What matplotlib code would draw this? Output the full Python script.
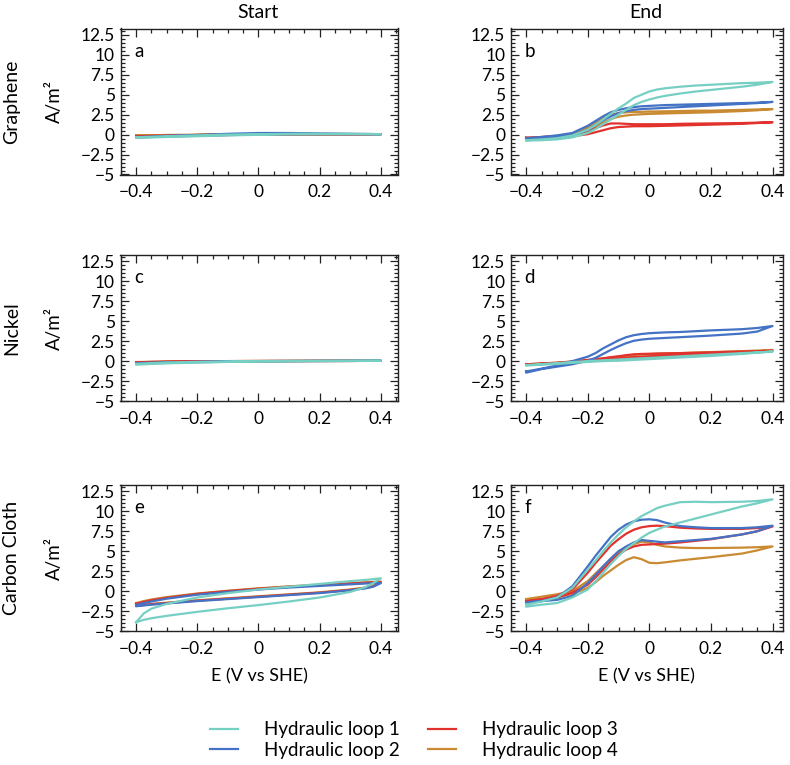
import numpy as np
import matplotlib
matplotlib.use('Agg')
import matplotlib.pyplot as plt
from matplotlib.ticker import MultipleLocator

plt.rcParams['font.family'] = ['Lato', 'DejaVu Sans']

# potential grids (V vs SHE)
E_START = [-0.4, -0.375, -0.35, -0.3, -0.2, -0.1, 0.0, 0.1, 0.2, 0.3, 0.35, 0.375, 0.4]
E_END = [-0.4, -0.35, -0.3, -0.25, -0.2, -0.175, -0.15, -0.125, -0.1, -0.075, -0.05,
         -0.025, 0.0, 0.025, 0.05, 0.1, 0.15, 0.2, 0.3, 0.35, 0.4]

loop_names = ['Hydraulic loop 1', 'Hydraulic loop 2', 'Hydraulic loop 3', 'Hydraulic loop 4']
loop_colors = ['#76CFC3', '#4472C4', '#E2322D', '#C98A32']

# current density (A/m2), upper and lower branch of each loop, order: loop 1..4
# a - graphene start
a_upper = [
    [-0.35, -0.3, -0.28, -0.2, -0.1, 0.0, 0.05, 0.1, 0.12, 0.1, 0.08, 0.07, 0.05],
    [-0.3, -0.28, -0.25, -0.15, -0.05, 0.1, 0.2, 0.2, 0.15, 0.1, 0.08, 0.07, 0.05],
    [-0.2, -0.18, -0.15, -0.1, -0.05, 0.02, 0.08, 0.1, 0.08, 0.06, 0.05, 0.05, 0.05],
    [-0.1, -0.1, -0.08, -0.05, 0.0, 0.05, 0.05, 0.05, 0.05, 0.05, 0.05, 0.05, 0.05],
]
a_lower = [
    [-0.4, -0.38, -0.35, -0.3, -0.2, -0.1, -0.02, 0.03, 0.05, 0.05, 0.05, 0.05, 0.05],
    [-0.35, -0.33, -0.3, -0.25, -0.15, -0.05, 0.0, 0.05, 0.05, 0.05, 0.05, 0.05, 0.05],
    [-0.25, -0.24, -0.22, -0.18, -0.1, -0.05, 0.0, 0.02, 0.03, 0.04, 0.05, 0.05, 0.05],
    [-0.15, -0.14, -0.13, -0.1, -0.05, 0.0, 0.02, 0.03, 0.04, 0.05, 0.05, 0.05, 0.05],
]
# c - nickel start
c_upper = [
    [-0.35, -0.3, -0.25, -0.18, -0.1, -0.05, 0.0, 0.02, 0.04, 0.05, 0.05, 0.05, 0.05],
    [-0.25, -0.22, -0.2, -0.15, -0.08, -0.03, 0.0, 0.02, 0.03, 0.04, 0.05, 0.05, 0.05],
    [-0.15, -0.13, -0.1, -0.06, -0.02, 0.0, 0.02, 0.03, 0.04, 0.05, 0.05, 0.05, 0.05],
    [-0.12, -0.1, -0.08, -0.05, -0.02, 0.0, 0.02, 0.03, 0.04, 0.05, 0.05, 0.05, 0.05],
]
c_lower = [
    [-0.45, -0.4, -0.35, -0.28, -0.18, -0.1, -0.05, -0.02, 0.0, 0.02, 0.03, 0.04, 0.05],
    [-0.35, -0.3, -0.27, -0.22, -0.14, -0.08, -0.04, -0.01, 0.01, 0.02, 0.03, 0.04, 0.05],
    [-0.2, -0.18, -0.16, -0.12, -0.07, -0.04, -0.02, 0.0, 0.01, 0.02, 0.03, 0.04, 0.05],
    [-0.18, -0.16, -0.14, -0.1, -0.06, -0.03, -0.01, 0.0, 0.01, 0.02, 0.03, 0.04, 0.05],
]
# e - carbon cloth start
e_upper = [
    [-3.9, -2.8, -2.2, -1.6, -0.8, -0.25, 0.2, 0.55, 0.9, 1.25, 1.4, 1.5, 1.6],
    [-1.75, -1.5, -1.3, -0.95, -0.45, -0.1, 0.2, 0.45, 0.65, 0.85, 0.95, 1.0, 1.0],
    [-1.6, -1.35, -1.15, -0.85, -0.35, 0.0, 0.3, 0.55, 0.75, 0.95, 1.05, 1.1, 1.1],
    [-1.5, -1.25, -1.05, -0.75, -0.3, 0.05, 0.35, 0.6, 0.8, 1.0, 1.1, 1.15, 1.2],
]
e_lower = [
    [-3.9, -3.6, -3.4, -3.1, -2.6, -2.15, -1.75, -1.3, -0.8, -0.1, 0.5, 1.0, 1.6],
    [-1.9, -1.8, -1.7, -1.55, -1.25, -1.0, -0.75, -0.5, -0.25, 0.1, 0.35, 0.55, 1.0],
    [-1.85, -1.75, -1.65, -1.5, -1.2, -0.95, -0.7, -0.45, -0.2, 0.15, 0.4, 0.6, 1.1],
    [-1.8, -1.7, -1.6, -1.45, -1.15, -0.9, -0.65, -0.4, -0.15, 0.2, 0.45, 0.65, 1.2],
]
# b - graphene end
b_upper = [
    [-0.7, -0.6, -0.45, -0.1, 0.6, 1.2, 1.9, 2.6, 3.3, 3.9, 4.6, 5.0, 5.4, 5.65, 5.8, 6.0, 6.15, 6.25, 6.45, 6.5, 6.6],
    [-0.45, -0.3, -0.1, 0.2, 1.1, 1.7, 2.3, 2.8, 3.1, 3.3, 3.45, 3.55, 3.6, 3.65, 3.7, 3.75, 3.8, 3.85, 3.95, 4.0, 4.1],
    [-0.4, -0.3, -0.2, -0.05, 0.4, 0.8, 1.15, 1.4, 1.4, 1.35, 1.3, 1.3, 1.3, 1.3, 1.3, 1.35, 1.38, 1.4, 1.45, 1.5, 1.55],
    [-0.4, -0.3, -0.15, 0.1, 0.9, 1.5, 2.1, 2.5, 2.7, 2.8, 2.85, 2.85, 2.9, 2.9, 2.92, 2.95, 3.0, 3.0, 3.1, 3.15, 3.2],
]
b_lower = [
    [-0.75, -0.7, -0.6, -0.35, 0.2, 0.7, 1.3, 1.9, 2.5, 3.1, 3.7, 4.1, 4.4, 4.65, 4.85, 5.15, 5.4, 5.6, 6.0, 6.25, 6.6],
    [-0.55, -0.5, -0.35, -0.1, 0.6, 1.2, 1.8, 2.3, 2.7, 2.95, 3.1, 3.2, 3.25, 3.3, 3.35, 3.45, 3.55, 3.65, 3.85, 3.95, 4.1],
    [-0.5, -0.45, -0.35, -0.2, 0.05, 0.3, 0.55, 0.8, 0.95, 1.0, 1.05, 1.05, 1.05, 1.08, 1.1, 1.15, 1.2, 1.25, 1.35, 1.45, 1.55],
    [-0.5, -0.45, -0.3, -0.1, 0.5, 1.0, 1.5, 1.95, 2.25, 2.4, 2.5, 2.55, 2.6, 2.62, 2.65, 2.7, 2.75, 2.8, 2.95, 3.05, 3.2],
]
# d - nickel end
d_upper = [
    [-0.5, -0.38, -0.25, -0.12, 0.0, 0.05, 0.1, 0.15, 0.2, 0.25, 0.3, 0.35, 0.4, 0.45, 0.5, 0.6, 0.7, 0.8, 1.0, 1.1, 1.2],
    [-1.3, -0.95, -0.55, 0.0, 0.55, 1.0, 1.6, 2.1, 2.6, 3.0, 3.25, 3.4, 3.5, 3.55, 3.6, 3.65, 3.75, 3.85, 4.0, 4.15, 4.4],
    [-0.4, -0.3, -0.2, -0.05, 0.15, 0.25, 0.35, 0.5, 0.6, 0.75, 0.85, 0.9, 0.92, 0.95, 0.97, 1.0, 1.05, 1.1, 1.2, 1.25, 1.3],
    [-0.4, -0.3, -0.2, -0.07, 0.12, 0.22, 0.32, 0.45, 0.55, 0.68, 0.78, 0.84, 0.88, 0.92, 0.95, 1.0, 1.07, 1.13, 1.25, 1.32, 1.4],
]
d_lower = [
    [-0.55, -0.45, -0.35, -0.22, -0.1, -0.05, 0.0, 0.03, 0.05, 0.1, 0.15, 0.2, 0.25, 0.3, 0.35, 0.45, 0.55, 0.65, 0.9, 1.05, 1.2],
    [-1.45, -1.0, -0.7, -0.4, 0.05, 0.4, 0.9, 1.4, 1.85, 2.25, 2.55, 2.7, 2.8, 2.85, 2.9, 3.0, 3.1, 3.2, 3.45, 3.7, 4.4],
    [-0.45, -0.35, -0.25, -0.15, 0.05, 0.12, 0.2, 0.28, 0.35, 0.42, 0.5, 0.55, 0.6, 0.65, 0.68, 0.75, 0.82, 0.9, 1.05, 1.15, 1.3],
    [-0.45, -0.35, -0.25, -0.15, 0.03, 0.1, 0.18, 0.25, 0.32, 0.4, 0.47, 0.52, 0.57, 0.62, 0.66, 0.74, 0.82, 0.9, 1.08, 1.2, 1.4],
]
# f - carbon cloth end
f_upper = [
    [-1.7, -1.3, -0.8, 0.4, 2.7, 3.8, 5.0, 6.1, 7.1, 8.0, 8.75, 9.4, 9.9, 10.4, 10.7, 11.15, 11.2, 11.15, 11.2, 11.3, 11.5],
    [-1.45, -1.25, -0.8, 0.6, 3.1, 4.4, 5.6, 6.8, 7.7, 8.35, 8.75, 8.95, 9.0, 8.9, 8.6, 8.15, 8.0, 7.9, 7.9, 8.0, 8.2],
    [-1.25, -1.0, -0.6, 0.2, 2.3, 3.5, 4.6, 5.7, 6.5, 7.2, 7.7, 8.0, 8.15, 8.2, 8.15, 7.95, 7.85, 7.8, 7.8, 7.9, 8.1],
    [-1.0, -0.7, -0.4, 0.0, 1.25, 2.2, 3.1, 4.0, 4.8, 5.4, 5.9, 6.2, 6.1, 5.8, 5.6, 5.45, 5.4, 5.4, 5.45, 5.5, 5.6],
]
f_lower = [
    [-1.95, -1.7, -1.5, -0.8, 0.2, 1.2, 2.3, 3.4, 4.4, 5.3, 6.0, 6.7, 7.3, 7.7, 8.1, 8.6, 9.1, 9.6, 10.6, 11.0, 11.5],
    [-1.4, -1.25, -1.1, -0.6, 1.0, 2.0, 3.1, 4.1, 5.0, 5.6, 6.1, 6.4, 6.3, 6.2, 6.1, 6.25, 6.4, 6.55, 7.1, 7.5, 8.2],
    [-1.3, -1.1, -0.8, -0.2, 0.8, 1.7, 2.7, 3.7, 4.6, 5.2, 5.6, 5.8, 5.85, 5.9, 5.95, 6.1, 6.3, 6.5, 7.1, 7.5, 8.1],
    [-1.1, -1.0, -0.8, -0.35, 0.4, 1.1, 1.9, 2.6, 3.3, 3.9, 4.25, 4.0, 3.55, 3.5, 3.6, 3.85, 4.05, 4.25, 4.7, 5.1, 5.6],
]

panels = [
    ('a', E_START, a_upper, a_lower),
    ('b', E_END, b_upper, b_lower),
    ('c', E_START, c_upper, c_lower),
    ('d', E_END, d_upper, d_lower),
    ('e', E_START, e_upper, e_lower),
    ('f', E_END, f_upper, f_lower),
]

W, H = 790., 765.
fig = plt.figure(figsize=(W / 100, H / 100), dpi=100)

col_x = [(120.5, 397.7), (510.7, 783.0)]
col_xlim = [(-0.451, 0.455), (-0.45, 0.434)]
row_y = [(28.5, 174.5), (255.0, 401.0), (485.0, 631.0)]
row_names = ['Graphene', 'Nickel', 'Carbon Cloth']

axes = []
for i, (letter, E, upper, lower) in enumerate(panels):
    r, c = divmod(i, 2)
    x0, x1 = col_x[c]
    y0, y1 = row_y[r]
    ax = fig.add_axes([x0 / W, 1 - y1 / H, (x1 - x0) / W, (y1 - y0) / H])
    E = np.asarray(E)
    # draw loop 4 first so loop 1 ends up on top
    for k in [3, 2, 1, 0]:
        xs = np.concatenate([E, E[::-1], E[:1]])
        ys = np.concatenate([upper[k], lower[k][::-1], upper[k][:1]])
        ax.plot(xs, ys, color=loop_colors[k], lw=1.6, label=loop_names[k],
                solid_joinstyle='round')
    ax.set_xlim(col_xlim[c])
    ax.set_ylim(-5, 13.3)
    ax.xaxis.set_major_locator(MultipleLocator(0.2))
    ax.xaxis.set_minor_locator(MultipleLocator(0.05))
    ax.yaxis.set_major_locator(MultipleLocator(2.5))
    ax.yaxis.set_minor_locator(MultipleLocator(0.5))
    ax.set_xticks([-0.4, -0.2, 0, 0.2, 0.4])
    ax.set_xticklabels(['\u22120.4', '\u22120.2', '0', '0.2', '0.4'])
    ax.set_yticks([-5, -2.5, 0, 2.5, 5, 7.5, 10, 12.5])
    ax.set_yticklabels(['\u22125', '\u22122.5', '0', '2.5', '5', '7.5', '10', '12.5'])
    ax.tick_params(which='both', direction='in', top=True, right=True, width=0.9, color='#222222')
    ax.tick_params(which='major', length=6, labelsize=12.5, pad=4)
    ax.tick_params(axis='x', which='major', pad=7)
    ax.tick_params(which='minor', length=3)
    for s in ax.spines.values():
        s.set_linewidth(1.0)
        s.set_color('#222222')
    ax.text(0.05, 0.845, letter, transform=ax.transAxes, fontsize=13.5,
            ha='left', va='center')
    if r == 2:
        ax.set_xlabel('E (V vs SHE)', fontsize=13, labelpad=8)
    axes.append(ax)

# column titles
fig.text(258 / W, 1 - 12 / H, 'Start', fontsize=14, ha='center', va='center')
fig.text(646 / W, 1 - 12 / H, 'End', fontsize=14, ha='center', va='center')

# row labels and y units
for r in range(3):
    yc = 1 - (row_y[r][0] + row_y[r][1]) / 2 / H
    fig.text(12 / W, yc, row_names[r], fontsize=14, rotation=90, ha='center', va='center')
    fig.text(54 / W, yc, 'A/m\u00b2', fontsize=13.5, rotation=90, ha='center', va='center')

handles, labels = axes[-1].get_legend_handles_labels()
order = [labels.index(n) for n in loop_names]
fig.legend([handles[j] for j in order], [labels[j] for j in order],
           loc='center', bbox_to_anchor=(414 / W, 1 - 740 / H), ncol=2,
           frameon=False, fontsize=13.5, handlelength=1.5, handletextpad=1.4,
           columnspacing=1.5, labelspacing=0.2)

fig.savefig('out.png', dpi=100)
